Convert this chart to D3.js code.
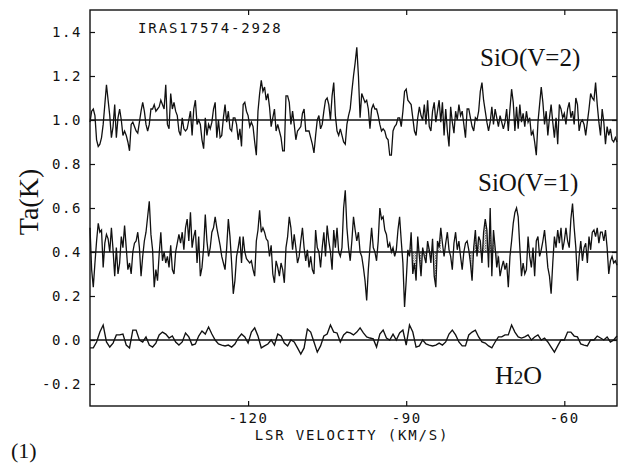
<!DOCTYPE html>
<html><head><meta charset="utf-8">
<script src="https://cdn.jsdelivr.net/npm/d3@7"></script>
<style>
html,body{margin:0;padding:0;background:#fff;}
svg{display:block;}
</style></head><body>
<svg id="chart" width="633" height="464"></svg>
<script>
// Channel grids (LSR velocity, km/s)
const velStart = -150;
const sioStep = 0.3125;
const h2oStep = 0.625;

// Antenna temperature relative to each spectrum's own baseline (K)
const sioV2 = [
 -0.01, 0.04, 0.05, 0.02,-0.09,-0.12,-0.11,-0.08,-0.02, 0.07,
  0.16, 0.09, 0.02,-0.08,-0.03, 0.07,-0.08, 0.01, 0.05, 0.00,
 -0.07,-0.05,-0.07,-0.10,-0.14,-0.02,-0.01,-0.03,-0.05,-0.06,
 -0.01, 0.04, 0.08, 0.04,-0.02,-0.05,-0.02, 0.05, 0.05, 0.07,
  0.04, 0.05, 0.06, 0.09, 0.07, 0.05, 0.16,-0.02,-0.04, 0.12,
  0.05, 0.08, 0.04, 0.02,-0.05,-0.07, 0.01,-0.04,-0.05,-0.04,
  0.00, 0.04,-0.07, 0.05, 0.09,-0.02, 0.00,-0.02,-0.09,-0.13,
  0.01,-0.07,-0.02,-0.04,-0.01, 0.05, 0.08,-0.08, 0.00,-0.08,
 -0.07, 0.01, 0.07,-0.01, 0.04,-0.04,-0.05, 0.01, 0.01,-0.02,
 -0.09,-0.04,-0.12, 0.07, 0.08, 0.04, 0.02,-0.03,-0.01,-0.03,
 -0.10,-0.16, 0.04, 0.12, 0.18, 0.13, 0.15, 0.09, 0.12, 0.06,
 -0.03, 0.01, 0.05,-0.05,-0.02,-0.05,-0.08,-0.14,-0.14, 0.11,
  0.11, 0.08,-0.02, 0.04,-0.02,-0.09,-0.05,-0.04,-0.03, 0.03,
  0.05,-0.05,-0.05,-0.05,-0.08,-0.11,-0.15,-0.07, 0.00, 0.02,
 -0.04,-0.02, 0.04, 0.09, 0.10, 0.07, 0.00, 0.11, 0.17, 0.02,
 -0.05,-0.07,-0.04,-0.07,-0.10,-0.11,-0.02, 0.02, 0.05,
  0.13, 0.20, 0.26, 0.33, 0.20, 0.01, 0.12, 0.10, 0.08, 0.09,
  0.05,-0.04, 0.05, 0.07, 0.05, 0.05, 0.02,-0.02,-0.05,-0.04,
 -0.05,-0.08,-0.09,-0.16,-0.16,-0.05,-0.03,-0.02, 0.01, 0.01,
 -0.03, 0.04, 0.13, 0.14, 0.09, 0.08, 0.07, 0.01,-0.05,-0.07,
  0.01, 0.06, 0.02, 0.00, 0.07,-0.02, 0.09,-0.03,-0.05, 0.04,
  0.08,-0.01, 0.04, 0.09,-0.01, 0.08,
 -0.07, 0.05,-0.05,-0.12, 0.06,-0.01,-0.06, 0.04, 0.00, 0.07,
  0.02, 0.04,-0.02,-0.08, 0.05, 0.05, 0.01,-0.03,-0.05, 0.01,
  0.00, 0.04, 0.13, 0.17, 0.09, 0.04,-0.01,-0.05,-0.01, 0.06,
 -0.02, 0.05, 0.01,-0.03, 0.02,-0.01,-0.04,-0.01, 0.05,-0.05,
  0.05, 0.14, 0.08,-0.05, 0.06,-0.04, 0.07,-0.01, 0.03,-0.03,
  0.04,-0.01, 0.01,-0.07,-0.05,-0.10,-0.16,-0.01, 0.07, 0.15,
  0.08,-0.02, 0.04,-0.07, 0.01, 0.07,-0.01,-0.08, 0.01,-0.11,
  0.07, 0.05, 0.01, 0.03,-0.02, 0.05, 0.08, 0.01, 0.04,-0.02,
  0.10, 0.07,-0.05,-0.01, 0.00,-0.02,-0.07,-0.01, 0.05, 0.12,
  0.10, 0.09, 0.17, 0.07,-0.01,-0.07, 0.05,-0.01,-0.11,-0.03,
 -0.07,-0.04,-0.09,-0.10,-0.08,-0.10
];
const sioV1 = [
  0.11,-0.08,-0.16,-0.05, 0.05, 0.13, 0.09, 0.10,-0.07, 0.04,
  0.08, 0.06, 0.00, 0.11, 0.01,-0.11, 0.02,-0.10,-0.05, 0.07,
  0.02, 0.12, 0.02,-0.08,-0.05,-0.10, 0.00, 0.04, 0.05, 0.09,
  0.02,-0.11,-0.02, 0.05, 0.09, 0.16, 0.23, 0.08, 0.01,-0.16,
 -0.08,-0.13,-0.01, 0.09,-0.04, 0.00,-0.05,-0.02,-0.07, 0.03,
 -0.08,-0.10, 0.00, 0.04, 0.08, 0.04, 0.09, 0.01, 0.11, 0.15,
  0.05, 0.18, 0.02, 0.07, 0.10,-0.05, 0.07,-0.11,-0.07, 0.02,
  0.17, 0.05,-0.02, 0.02, 0.09, 0.11, 0.16, 0.11, 0.07, 0.03,
 -0.02,-0.05,-0.08, 0.02, 0.15, 0.07,-0.05,-0.19,-0.13,-0.02,
  0.02, 0.07,-0.05, 0.07, 0.00,-0.03,-0.04,-0.05,-0.04,-0.08,
 -0.11, 0.05, 0.10, 0.19, 0.09, 0.11, 0.09,
  0.06, 0.05,-0.02, 0.03,-0.10,-0.14,-0.04,-0.07,-0.11,-0.05,
 -0.08,-0.14, 0.02, 0.07, 0.16, 0.11, 0.01, 0.08, 0.02,-0.05,
 -0.02, 0.05, 0.11, 0.02,-0.04, 0.01,-0.07,-0.02,-0.08,-0.10,
  0.10, 0.02, 0.00,-0.07, 0.02, 0.09,-0.02, 0.12, 0.05, 0.00,
 -0.08, 0.10, 0.02, 0.11, 0.00,-0.02, 0.02,
  0.20, 0.28, 0.11, 0.02,-0.04, 0.05, 0.16, 0.10, 0.05, 0.09,
  0.00,-0.02,-0.07,-0.13,-0.22,-0.08, 0.02, 0.11, 0.02, 0.00,
 -0.04, 0.05, 0.20, 0.15, 0.16, 0.10,
  0.08, 0.02, 0.04, 0.00, 0.02,-0.02, 0.01, 0.10, 0.16, 0.05,
 -0.05,-0.25,-0.13, 0.01,-0.02, 0.09,-0.10,-0.05,-0.13, 0.07,
 -0.02,-0.11, 0.02,-0.02,-0.05, 0.05, 0.01,-0.05, 0.06,-0.11,
 -0.16, 0.05, 0.02, 0.11, 0.04,
 -0.02, 0.04, 0.09, 0.01,-0.02,-0.08, 0.04, 0.09, 0.01, 0.05,
 -0.02,-0.08, 0.00, 0.04, 0.05, 0.01,-0.05,-0.13, 0.02, 0.10,
 -0.02, 0.07, 0.05,-0.05, 0.09, 0.15, 0.10,-0.07, 0.20,-0.11,
  0.10, 0.02,-0.07,-0.02,-0.11,-0.07,-0.04,-0.08,-0.05,-0.16,
 -0.02, 0.05, 0.13, 0.18, 0.20, 0.16, 0.02,-0.11,-0.05,-0.10,
 -0.08, 0.07,-0.02,-0.07, 0.02,-0.11, 0.05, 0.07,-0.02, 0.01,
  0.05, 0.10, 0.02,-0.07,-0.11,-0.19,-0.05, 0.07, 0.02, 0.10,
  0.04, 0.11, 0.01, 0.05, 0.11, 0.05, 0.02, 0.15, 0.22, 0.11,
  0.02,-0.13,-0.02, 0.05,-0.04, 0.02, 0.04,-0.05, 0.07, 0.01,
  0.09, 0.10, 0.07, 0.11, 0.04, 0.09, 0.09, 0.05, 0.10, 0.02,
 -0.10,-0.04,-0.02,-0.05,-0.04,-0.06
];
const h2o = [
 -0.036,-0.036,-0.009, 0.036, 0.068,-0.009,-0.032,-0.014, 0.023, 0.023,
  0.027,-0.023,-0.036, 0.045, 0.045, 0.000,-0.009, 0.014,-0.023,-0.032,
 -0.014, 0.023, 0.036, 0.027, 0.009, 0.018,-0.009,-0.023,-0.009, 0.032,
  0.014,-0.023,-0.018, 0.018, 0.041, 0.027, 0.059, 0.027, 0.000,-0.018,
 -0.023,-0.027,-0.023,-0.032,-0.018, 0.009, 0.027, 0.014,-0.014, 0.036,
  0.055, 0.018,-0.036,-0.027,-0.018, 0.000,-0.023, 0.027, 0.018,-0.014,
 -0.027, 0.000,-0.009,-0.036,-0.064,-0.036, 0.050, 0.036,-0.009,-0.055,
 -0.027, 0.018, 0.027, 0.068, 0.036, 0.032,-0.009, 0.023, 0.036, 0.032,
  0.023, 0.036, 0.055, 0.032, 0.014, 0.009, 0.005,-0.032, 0.027, 0.045,
  0.009, 0.000, 0.027, 0.000, 0.032, 0.045,-0.023, 0.068, 0.036,-0.032,
 -0.027, 0.000,-0.018,-0.023,-0.027,-0.023,-0.014,-0.023,-0.009, 0.027,
  0.045, 0.023,-0.009,-0.027,-0.027, 0.023, 0.036, 0.045, 0.014,-0.009,
 -0.014,-0.027,-0.036,-0.009, 0.014, 0.014, 0.023, 0.023, 0.068, 0.036,
  0.014, 0.009, 0.014, 0.023, 0.000, 0.014, 0.023, 0.000, 0.009,-0.009,
 -0.032,-0.055,-0.027, 0.000, 0.000, 0.036, 0.036, 0.018, 0.014,-0.018,
 -0.023,-0.027, 0.000, 0.000, 0.018, 0.009, 0.000, 0.014,-0.009, 0.000,
  0.018
];

// Each spectrum is drawn shifted up by its own offset
const lineNames = ["SiO(V=2)", "SiO(V=1)", "H2O"];
const baselineOffsets = [1.0, 0.4, 0.0];
const channelSteps = [sioStep, sioStep, h2oStep];
const yTicks = [-0.2, 0.0, 0.2, 0.4, 0.6, 0.8, 1.0, 1.2, 1.4];
const xTicks = [-120, -90, -60];
const yDomain = [-0.3, 1.5];
const xDomain = [-150, -50];
// Velocity windows of the SiO(V=1) profile that are shaded
const shadedRanges = [[-89.8, -83.2], [-78.3, -72.4]];

const svg = d3.select("#chart");
const x = d3.scaleLinear().domain(xDomain).range([90, 617]);
const y = d3.scaleLinear().domain(yDomain).range([406, 10]);

const monoFont = "'DejaVu Sans Mono', 'Liberation Mono', monospace";
const serifFont = "'Liberation Serif', 'DejaVu Serif', serif";
const ink = "#111";

// Stipple pattern for shaded windows
const defs = svg.append("defs");
const pat = defs.append("pattern").attr("id", "stipple")
  .attr("width", 2.5).attr("height", 2.5).attr("patternUnits", "userSpaceOnUse");
pat.append("rect").attr("width", 1.4).attr("height", 1.4).attr("fill", "#444");
pat.append("rect").attr("x", 1.25).attr("y", 1.25).attr("width", 1.1).attr("height", 1.1).attr("fill", "#777");

const series = [sioV2, sioV1, h2o];
const vel = (i, k) => velStart + i * channelSteps[k];

// Shaded areas between the SiO(V=1) trace and its baseline
shadedRanges.forEach(([v0, v1]) => {
  const pts = sioV1.map((d, i) => [vel(i, 1), d]).filter(p => p[0] >= v0 && p[0] <= v1);
  const area = d3.area()
    .x(p => x(p[0]))
    .y0(y(baselineOffsets[1]))
    .y1(p => y(baselineOffsets[1] + p[1]));
  svg.append("path").attr("d", area(pts)).attr("fill", "url(#stipple)").attr("opacity", 0.9);
});

// Baselines
baselineOffsets.forEach(b => {
  svg.append("line")
    .attr("x1", x(xDomain[0])).attr("x2", x(xDomain[1]))
    .attr("y1", y(b)).attr("y2", y(b))
    .attr("stroke", ink).attr("stroke-width", 1.4);
});

// Spectra
series.forEach((s, k) => {
  const line = d3.line()
    .x((d, i) => x(Math.min(vel(i, k), xDomain[1])))
    .y(d => y(baselineOffsets[k] + d));
  svg.append("path").attr("d", line(s))
    .attr("fill", "none").attr("stroke", ink)
    .attr("stroke-width", k === 2 ? 1.35 : 1.3).attr("stroke-linejoin", "miter");
});

// Axes with inward ticks on all four sides
const fmtY = d => d.toFixed(1);
const gLeft = svg.append("g").attr("transform", `translate(${x(xDomain[0])},0)`)
  .call(d3.axisLeft(y).tickValues(yTicks).tickFormat(fmtY).tickSizeInner(-5).tickSizeOuter(0).tickPadding(8));
const gRight = svg.append("g").attr("transform", `translate(${x(xDomain[1])},0)`)
  .call(d3.axisRight(y).tickValues(yTicks).tickFormat("").tickSizeInner(-5).tickSizeOuter(0));
const gBottom = svg.append("g").attr("transform", `translate(0,${y(yDomain[0])})`)
  .call(d3.axisBottom(x).tickValues(xTicks).tickFormat(d => String(d)).tickSizeInner(-5).tickSizeOuter(0).tickPadding(7));
const gTop = svg.append("g").attr("transform", `translate(0,${y(yDomain[1])})`)
  .call(d3.axisTop(x).tickValues(xTicks).tickFormat("").tickSizeInner(-5).tickSizeOuter(0));

[gLeft, gRight, gBottom, gTop].forEach(g => {
  g.select(".domain").remove();
  g.selectAll(".tick line").attr("stroke", ink).attr("stroke-width", 1.2);
  g.selectAll(".tick text").attr("fill", ink)
    .style("font-family", monoFont).style("font-size", "14px").style("letter-spacing", "1.6px");
});

// Frame
svg.append("rect")
  .attr("x", x(xDomain[0])).attr("y", y(yDomain[1]))
  .attr("width", x(xDomain[1]) - x(xDomain[0]))
  .attr("height", y(yDomain[0]) - y(yDomain[1]))
  .attr("fill", "none").attr("stroke", ink).attr("stroke-width", 1.4);

// Titles and labels
svg.append("text").attr("x", 138).attr("y", 33)
  .style("font-family", monoFont).style("font-size", "14px").style("letter-spacing", "1.9px")
  .attr("fill", ink).text("IRAS17574-2928");

svg.append("text").attr("x", 480).attr("y", 66)
  .style("font-family", serifFont).style("font-size", "25px").attr("fill", ink).text(lineNames[0]);
svg.append("text").attr("x", 478).attr("y", 191)
  .style("font-family", serifFont).style("font-size", "25px").attr("fill", ink).text(lineNames[1]);
const h2oLabel = svg.append("text").attr("x", 495).attr("y", 384)
  .style("font-family", serifFont).style("font-size", "26px").attr("fill", ink);
h2oLabel.append("tspan").text("H");
h2oLabel.append("tspan").style("font-size", "19px").text("2");
h2oLabel.append("tspan").text("O");

svg.append("text").attr("transform", "translate(38,202) rotate(-90)")
  .attr("text-anchor", "middle")
  .style("font-family", serifFont).style("font-size", "28px").attr("fill", ink)
  .text("Ta(K)");

svg.append("text").attr("x", 352).attr("y", 440).attr("text-anchor", "middle")
  .style("font-family", monoFont).style("font-size", "14px").style("letter-spacing", "1.8px")
  .attr("fill", ink).text("LSR VELOCITY (KM/S)");

svg.append("text").attr("x", 11).attr("y", 458)
  .style("font-family", serifFont).style("font-size", "22px").attr("fill", ink).text("(1)");
</script>
</body></html>
